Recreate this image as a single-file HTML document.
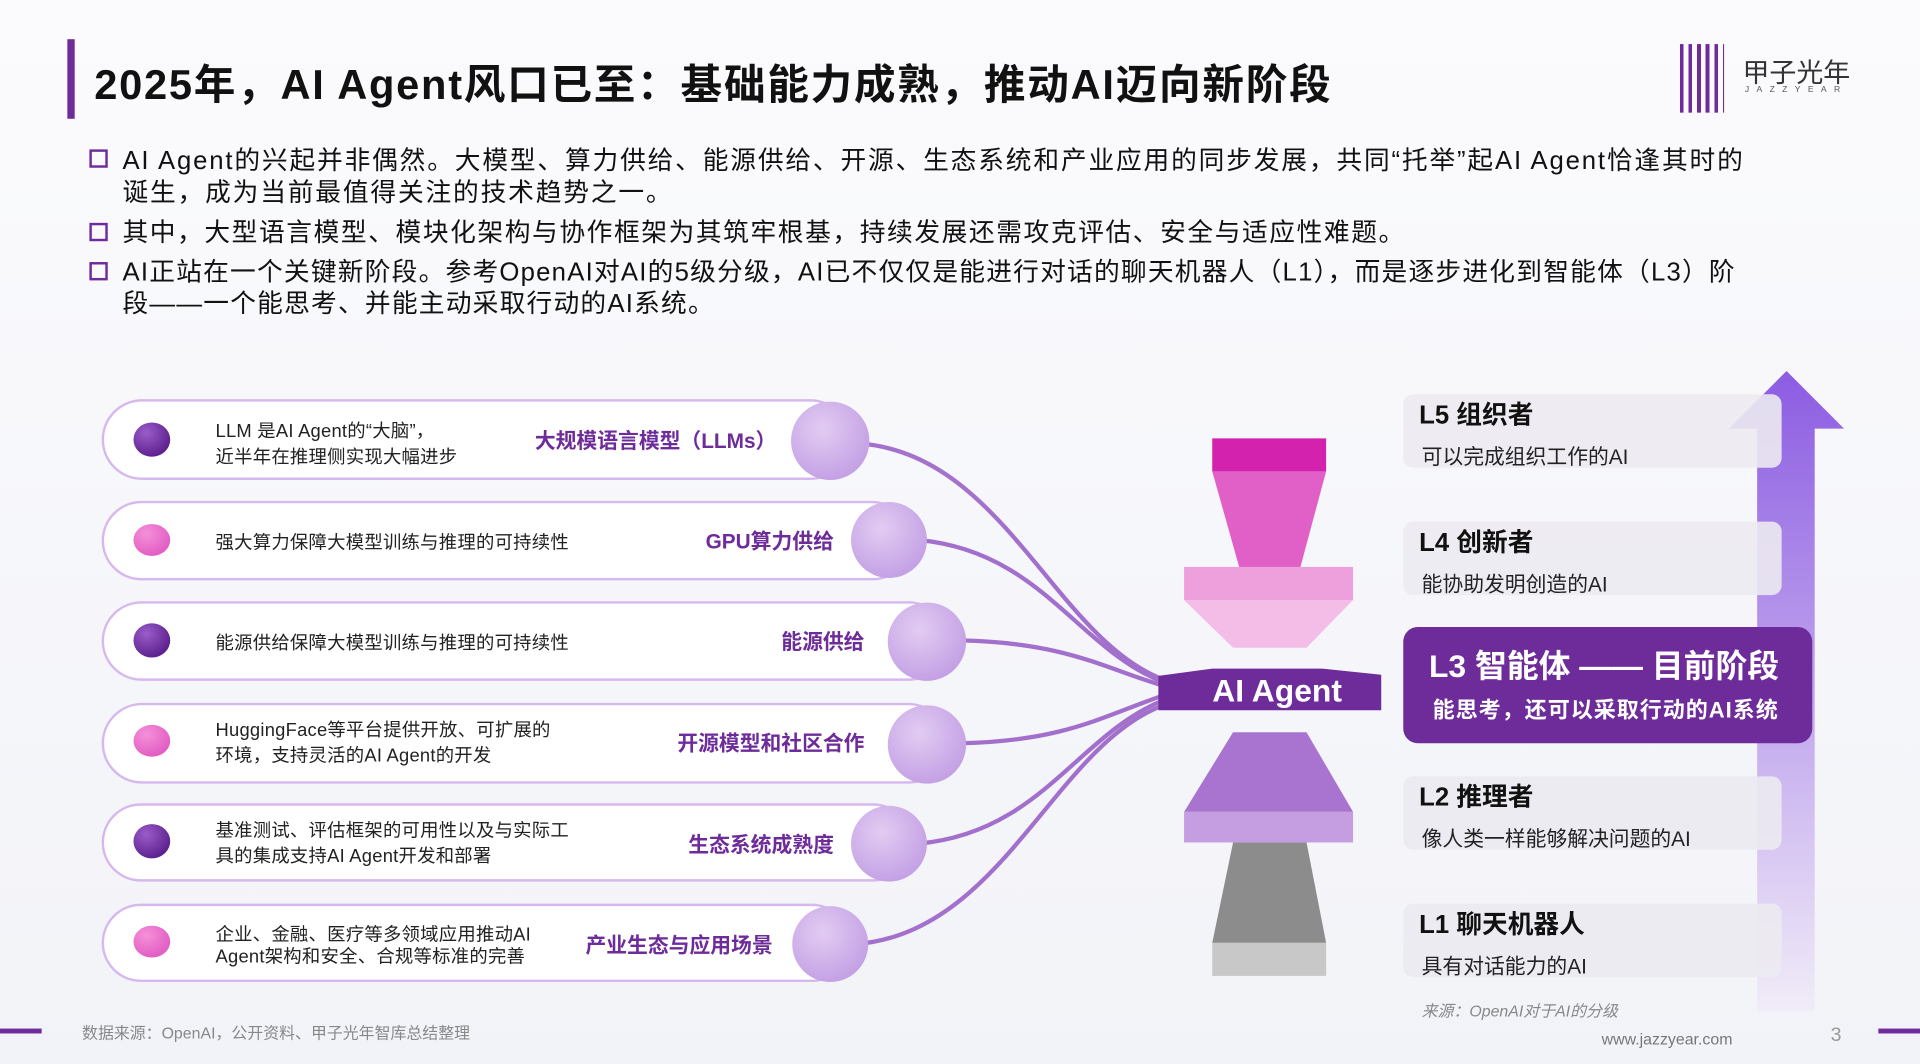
<!DOCTYPE html>
<html><head><meta charset="utf-8">
<style>
html,body{margin:0;padding:0;width:1920px;height:1064px;overflow:hidden;background:#f4f5fa;}
#s{position:absolute;left:0;top:0;width:1568px;height:869px;transform:scale(1.22449);transform-origin:0 0;font-family:"Liberation Sans","Noto Sans CJK SC",sans-serif;background:linear-gradient(180deg,#fbfbfd 0%,#f2f3f8 100%);}
.t{position:absolute;white-space:nowrap;}
</style></head><body><div id="s">
<div class="t" style="left:55px;top:32px;width:6px;height:65px;background:#6e2b9a"></div>
<div class="t" style="left:77px;top:42px;font-size:34px;font-weight:bold;color:#111;letter-spacing:1.4px">2025年，AI Agent风口已至：基础能力成熟，推动AI迈向新阶段</div>
<div class="t" style="left:1372px;top:36px;width:36px;height:56px;background:repeating-linear-gradient(90deg,#6e2b9a 0 3px,transparent 3px 7px)"></div>
<div class="t" style="left:1423px;top:42px;font-size:22px;color:#333">甲子光年</div>
<div class="t" style="left:1425px;top:70px;font-size:7px;letter-spacing:6px;color:#555">JAZZYEAR</div>

<div class="t" style="left:73px;top:122px;width:11px;height:11px;border:2px solid #6e2b9a"></div>
<div class="t" style="left:73px;top:182px;width:11px;height:11px;border:2px solid #6e2b9a"></div>
<div class="t" style="left:73px;top:214px;width:11px;height:11px;border:2px solid #6e2b9a"></div>
<div class="t" style="left:100px;top:119px;font-size:21px;line-height:26px;color:#111;letter-spacing:1.5px">AI Agent的兴起并非偶然。大模型、算力供给、能源供给、开源、生态系统和产业应用的同步发展，共同“托举”起AI Agent恰逢其时的<br>诞生，成为当前最值得关注的技术趋势之一。</div>
<div class="t" style="left:100px;top:178px;font-size:21px;line-height:26px;color:#111;letter-spacing:1.3px">其中，大型语言模型、模块化架构与协作框架为其筑牢根基，持续发展还需攻克评估、安全与适应性难题。</div>
<div class="t" style="left:100px;top:210px;font-size:21px;line-height:26px;color:#111;letter-spacing:1.0px">AI正站在一个关键新阶段。参考OpenAI对AI的5级分级，AI已不仅仅是能进行对话的聊天机器人（L1），而是逐步进化到智能体（L3）阶<br>段——一个能思考、并能主动采取行动的AI系统。</div>

<svg class="t" style="left:0;top:0" width="1568" height="869" viewBox="0 0 1568 869">
<defs>
<linearGradient id="ar" x1="0" y1="0" x2="0" y2="1"><stop offset="0" stop-color="#8c5ce2"/><stop offset="1" stop-color="#f1ecf8"/></linearGradient>
<radialGradient id="cb" cx="0.4" cy="0.35" r="0.7"><stop offset="0" stop-color="#e2ccf2"/><stop offset="1" stop-color="#c29ee4"/></radialGradient>
<radialGradient id="pd" cx="0.35" cy="0.3" r="0.7"><stop offset="0" stop-color="#9a5cc8"/><stop offset="1" stop-color="#5e2290"/></radialGradient>
<radialGradient id="pp" cx="0.35" cy="0.3" r="0.7"><stop offset="0" stop-color="#f590d8"/><stop offset="1" stop-color="#e25ec4"/></radialGradient>
</defs>
<g fill="none" stroke="#9a62c8" stroke-width="3.5" opacity="0.9">
<path d="M700,362 C820,370 860,520 950,555"/>
<path d="M750,441 C850,450 880,530 950,557"/>
<path d="M785,523 C870,525 900,545 950,560"/>
<path d="M785,607 C870,605 900,585 950,568"/>
<path d="M750,689 C850,680 880,600 950,572"/>
<path d="M700,771 C820,760 860,610 950,576"/>
</g>
<g stroke="#d6b8ee" stroke-width="2" fill="#fff">
<rect x="84" y="327" width="610" height="64" rx="32"/>
<rect x="84" y="410" width="660" height="63" rx="31.5"/>
<rect x="84" y="492" width="690" height="63" rx="31.5"/>
<rect x="84" y="575" width="690" height="64" rx="32"/>
<rect x="84" y="657" width="660" height="62" rx="31"/>
<rect x="84" y="739" width="610" height="62" rx="31"/>
</g>
<g>
<ellipse cx="124" cy="359" rx="15" ry="14" fill="url(#pd)"/>
<ellipse cx="124" cy="441" rx="15" ry="13" fill="url(#pp)"/>
<ellipse cx="124" cy="523" rx="15" ry="14" fill="url(#pd)"/>
<ellipse cx="124" cy="605" rx="15" ry="13" fill="url(#pp)"/>
<ellipse cx="124" cy="687" rx="15" ry="14" fill="url(#pd)"/>
<ellipse cx="124" cy="769" rx="15" ry="13" fill="url(#pp)"/>
</g>
<g fill="url(#cb)">
<circle cx="678" cy="360" r="32"/><circle cx="726" cy="441" r="31"/><circle cx="757" cy="524" r="32"/>
<circle cx="757" cy="608" r="32"/><circle cx="726" cy="689" r="31"/><circle cx="678" cy="771" r="31"/>
</g>
<g font-size="15" fill="#222" letter-spacing="0.2">
<text x="176" y="357">LLM 是AI Agent的“大脑”，</text><text x="176" y="378">近半年在推理侧实现大幅进步</text>
<text x="176" y="448">强大算力保障大模型训练与推理的可持续性</text>
<text x="176" y="530">能源供给保障大模型训练与推理的可持续性</text>
<text x="176" y="601">HuggingFace等平台提供开放、可扩展的</text><text x="176" y="622">环境，支持灵活的AI Agent的开发</text>
<text x="176" y="683">基准测试、评估框架的可用性以及与实际工</text><text x="176" y="704">具的集成支持AI Agent开发和部署</text>
<text x="176" y="768">企业、金融、医疗等多领域应用推动AI</text><text x="176" y="786">Agent架构和安全、合规等标准的完善</text>
</g>
<g font-size="17" font-weight="bold" fill="#6e2b9a" text-anchor="end">
<text x="634" y="366">大规模语言模型（LLMs）</text>
<text x="681" y="448">GPU算力供给</text>
<text x="706" y="530">能源供给</text>
<text x="706" y="613">开源模型和社区合作</text>
<text x="681" y="696">生态系统成熟度</text>
<text x="631" y="778">产业生态与应用场景</text>
</g>
<rect x="990" y="358" width="93" height="27" fill="#d322ad"/>
<polygon points="990,385 1083,385 1062,463 1012,463" fill="#e060c8"/>
<rect x="967" y="463" width="138" height="27" fill="#eea0dc"/>
<polygon points="967,490 1105,490 1067,529 1007,529" fill="#f4bde8"/>
<polygon points="946,552 990,546 1080,546 1128,551 1128,580 946,580" fill="#6e2b9a"/>
<text x="1043" y="573" font-size="26" font-weight="bold" fill="#fff" text-anchor="middle">AI Agent</text>
<polygon points="1007,598 1067,598 1105,663 967,663" fill="#a874d0"/>
<rect x="967" y="663" width="138" height="25" fill="#c49ee0"/>
<polygon points="1007,688 1067,688 1083,770 990,770" fill="#8c8c8c"/>
<rect x="990" y="770" width="93" height="27" fill="#c8c8c8"/>
<polygon points="1459,303 1506,350 1482,350 1482,826 1435,826 1435,350 1412,350" fill="url(#ar)"/>
<g fill="#eceaf1" opacity="0.9">
<rect x="1146" y="322" width="309" height="60" rx="8"/>
<rect x="1146" y="426" width="309" height="60" rx="8"/>
<rect x="1146" y="634" width="309" height="60" rx="8"/>
<rect x="1146" y="738" width="309" height="60" rx="8"/>
</g>
<rect x="1146" y="512" width="334" height="95" rx="12" fill="#6e2b9a"/>
<g font-size="21" font-weight="bold" fill="#111">
<text x="1159" y="346">L5 组织者</text><text x="1159" y="450">L4 创新者</text>
<text x="1159" y="658">L2 推理者</text><text x="1159" y="762">L1 聊天机器人</text>
</g>
<g font-size="17" fill="#222">
<text x="1161" y="379">可以完成组织工作的AI</text><text x="1161" y="483">能协助发明创造的AI</text>
<text x="1161" y="691">像人类一样能够解决问题的AI</text><text x="1161" y="795">具有对话能力的AI</text>
</g>
<text x="1167" y="553" font-size="26" font-weight="bold" fill="#fff">L3 智能体 —— 目前阶段</text>
<text x="1170" y="586" font-size="18" font-weight="bold" fill="#fff" letter-spacing="0.8">能思考，还可以采取行动的AI系统</text>
<text x="1161" y="830" font-size="13" font-style="italic" fill="#888">来源：OpenAI对于AI的分级</text>
<rect x="0" y="840" width="34" height="4" fill="#6e2b9a"/>
<rect x="1534" y="840" width="34" height="4" fill="#6e2b9a"/>
<text x="67" y="848" font-size="13" fill="#888">数据来源：OpenAI，公开资料、甲子光年智库总结整理</text>
<text x="1308" y="853" font-size="13" fill="#777">www.jazzyear.com</text>
<text x="1495" y="850" font-size="16" fill="#999">3</text>
</svg>
</div></body></html>
